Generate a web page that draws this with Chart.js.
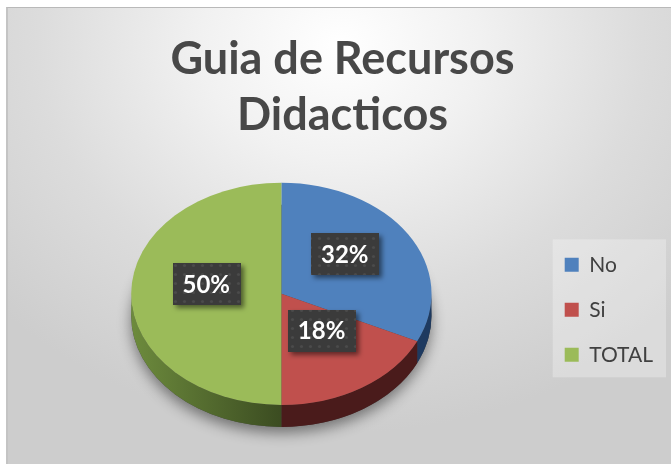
<!DOCTYPE html>
<html>
<head>
<meta charset="utf-8">
<script src="https://cdn.jsdelivr.net/npm/chart.js@4.4.1/dist/chart.umd.min.js"></script>
<style>
  html, body { margin: 0; padding: 0; background: #fff; }
  #frame {
    position: absolute; left: 6px; top: 7px; width: 665px; height: 457px;
    border-top: 1px solid #b9b9b9; border-left: 2px solid #c4c4c4;
    background: radial-gradient(ellipse 70% 85% at 50% 8%, #ffffff 0%, #f1f1f1 30%, #dcdcdc 65%, #cdcdcd 100%);
  }
  #pieChart { position: absolute; left: 0; top: 0; }
</style>
</head>
<body>
<div id="frame"></div>
<canvas id="pieChart" width="671" height="464"></canvas>
<script>
// data
const categories = ["No", "Si", "TOTAL"];
const shares = [32, 18, 50];
const titleLines = ["Guia de Recursos", "Didacticos"];

// styles
const sliceColors = ["#4f81bd", "#c0504d", "#9bbb59"];
const sideLight = ["#2c5283", "#5a2222", "#6d8b3d"];
const sideDark = ["#1e3a60", "#4a1b1b", "#3b4c21"];

const TILT = 0.74;   // vertical squash of the pie
const DEPTH = 22;    // thickness of the side wall, px

// dotted dark fill for the data label boxes
function labelPattern(ctx) {
  const c = document.createElement("canvas");
  c.width = 9; c.height = 9;
  const p = c.getContext("2d");
  p.fillStyle = "#3b3b3b";
  p.fillRect(0, 0, 9, 9);
  p.fillStyle = "#4b4b4b";
  p.beginPath();
  p.arc(4.5, 4.5, 1.6, 0, Math.PI * 2);
  p.fill();
  return ctx.createPattern(c, "repeat");
}

// squash the pie into an ellipse and give it a side wall
const pie3d = {
  id: "pie3d",
  beforeDraw(chart) {
    // light box behind the legend
    const hb = chart.legend.legendHitBoxes;
    if (!hb || !hb.length) return;
    const ctx = chart.ctx;
    const last = hb[hb.length - 1];
    const w = Math.max(...hb.map(h => h.width));
    ctx.save();
    ctx.fillStyle = "rgba(255,255,255,0.28)";
    ctx.fillRect(hb[0].left - 12, hb[0].top - 15, w + 25, last.top + last.height - hb[0].top + 27);
    ctx.restore();
  },
  beforeDatasetsDraw(chart) {
    const ctx = chart.ctx;
    const arcs = chart.getDatasetMeta(0).data;
    const { x, y, outerRadius: r } = arcs[0];
    const d = DEPTH / TILT;
    ctx.save();
    ctx.translate(x, y);
    ctx.scale(1, TILT);
    ctx.translate(-x, -y);

    // shadow on the floor
    ctx.save();
    ctx.shadowColor = "rgba(0,0,0,0.45)";
    ctx.shadowBlur = 14;
    ctx.shadowOffsetY = 6;
    ctx.beginPath();
    ctx.arc(x, y + d, r, 0, Math.PI * 2);
    ctx.fillStyle = "#444";
    ctx.fill();
    ctx.restore();

    // front half of the wall
    arcs.forEach((arc, i) => {
      const a0 = Math.max(arc.startAngle, 0);
      const a1 = Math.min(arc.endAngle, Math.PI);
      if (a1 <= a0) return;
      const g = ctx.createLinearGradient(x - r, 0, x, 0);
      g.addColorStop(0, sideLight[i]);
      g.addColorStop(1, sideDark[i]);
      ctx.fillStyle = i === 2 ? g : sideDark[i];
      ctx.beginPath();
      ctx.arc(x, y, r, a0, a1);
      ctx.arc(x, y + d, r, a1, a0, true);
      ctx.closePath();
      ctx.fill();
    });
  },
  afterDatasetsDraw(chart) {
    const ctx = chart.ctx;
    ctx.restore();

    // data labels in dark boxes
    const arcs = chart.getDatasetMeta(0).data;
    ctx.save();
    ctx.font = "bold 24px Lato";
    ctx.textAlign = "center";
    ctx.textBaseline = "middle";
    const pat = labelPattern(ctx);
    arcs.forEach((arc, i) => {
      const mid = (arc.startAngle + arc.endAngle) / 2;
      const lx = arc.x + Math.cos(mid) * arc.outerRadius * 0.5;
      const ly = arc.y + Math.sin(mid) * arc.outerRadius * 0.5 * TILT - 10;
      const text = shares[i] + "%";
      const bw = ctx.measureText(text).width + 20;
      const bh = 42;
      ctx.save();
      ctx.shadowColor = "rgba(0,0,0,0.5)";
      ctx.shadowBlur = 5;
      ctx.shadowOffsetX = 3;
      ctx.shadowOffsetY = 3;
      ctx.fillStyle = pat;
      ctx.fillRect(Math.round(lx - bw / 2), Math.round(ly - bh / 2), Math.round(bw), bh);
      ctx.restore();
      ctx.fillStyle = "#ffffff";
      ctx.fillText(text, lx, ly + 1);
    });
    ctx.restore();
  }
};

const ctx = document.getElementById("pieChart").getContext("2d");

new Chart(ctx, {
  type: "pie",
  data: {
    labels: categories,
    datasets: [{
      data: shares,
      backgroundColor: sliceColors,
      borderWidth: 0,
      hoverOffset: 0
    }]
  },
  options: {
    responsive: false,
    animation: false,
    layout: { padding: { left: 22, right: 8, top: 8, bottom: 20 } },
    plugins: {
      title: {
        display: true,
        text: titleLines,
        color: "#484848",
        font: { family: "Lato", size: 45, weight: "bold", lineHeight: 1.23 },
        padding: { top: 24, bottom: 1 }
      },
      legend: {
        display: true,
        position: "right",
        fullSize: false,
        // blank legend title only pushes the entries down a little
        title: { display: true, text: " ", font: { size: 10, lineHeight: 1.2 }, padding: { top: 20, bottom: 0 } },
        labels: {
          boxWidth: 14,
          boxHeight: 14,
          padding: 24,
          color: "#404040",
          font: { family: "Lato", size: 21 }
        }
      },
      tooltip: { enabled: false }
    }
  },
  plugins: [pie3d]
});
</script>
</body>
</html>
